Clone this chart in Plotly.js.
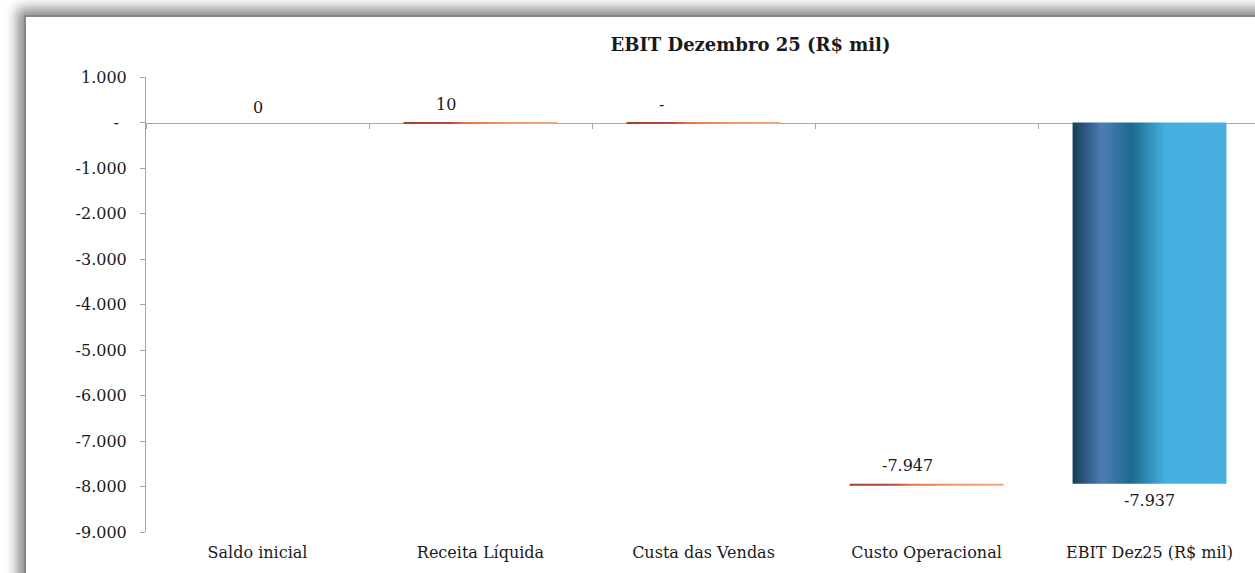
<!DOCTYPE html>
<html><head><meta charset="utf-8">
<script src="https://cdn.plot.ly/plotly-3.0.1.min.js"></script>
<style>
html,body{margin:0;padding:0;background:#fff;overflow:hidden;width:1255px;height:573px;}
#frame{position:absolute;left:24px;top:15px;width:1300px;height:640px;border-left:2px solid #868686;border-top:2px solid #868686;box-shadow:-7px -7px 12px rgba(0,0,0,0.45);background:#fff;}
#chart{position:absolute;left:0;top:0;}
</style></head><body>
<div id="frame"><div id="chart"></div></div>
<script>
// ---- data ----
const categories = ['Saldo inicial', 'Receita Líquida', 'Custa das Vendas', 'Custo Operacional', 'EBIT Dez25 (R$ mil)'];
const startCategory = 'Saldo inicial';
const startValue = 0;
const stepCategories = ['Receita Líquida', 'Custa das Vendas', 'Custo Operacional'];
const stepValues = [10, 0, -7947];
const stepLabels = ['10', '-', '-7.947'];
const endCategory = 'EBIT Dez25 (R$ mil)';
const totalLabels = ['0', '-7.937'];
const yTickVals = [1000, 0, -1000, -2000, -3000, -4000, -5000, -6000, -7000, -8000, -9000];
const yTickText = ['1.000', '-\u2002', '-1.000', '-2.000', '-3.000', '-4.000', '-5.000', '-6.000', '-7.000', '-8.000', '-9.000'];
const titleText = 'EBIT Dezembro 25 (R$ mil)';

// ---- derived ----
const runningTotals = [];
let acc = startValue;
stepValues.forEach(v => { acc += v; runningTotals.push(acc); });
const endValue = acc;

const yRange = [-9000, 1000];
const plotH = 455;
const markPx = 2;
const markDepth = markPx * (yRange[1] - yRange[0]) / plotH;

const FONT = 'DejaVu Serif, Liberation Serif, serif';
const TXT = '#1a1a1a';
const AX = '#a6a6a6';

const data = [
  {
    type: 'bar', x: [startCategory, endCategory], y: [startValue, endValue],
    marker: {color: '#2f86b8'}, hoverinfo: 'none', showlegend: false
  },
  {
    type: 'bar', x: stepCategories, base: runningTotals, y: stepCategories.map(() => -markDepth),
    xaxis: 'x2', yaxis: 'y',
    marker: {color: '#e07a45'}, hoverinfo: 'none', showlegend: false
  }
];

const annotations = [];
[[startCategory, startValue, totalLabels[0]], [endCategory, endValue, totalLabels[1]]].forEach(([c, v, t]) => {
  annotations.push({x: c, y: v, xref: 'x', yref: 'y', text: t, showarrow: false,
    yshift: v < 0 ? -17 : 15, xanchor: 'center', yanchor: 'middle',
    font: {family: FONT, size: 16, color: TXT}});
});
stepCategories.forEach((c, i) => {
  annotations.push({x: c, y: runningTotals[i], xref: 'x', yref: 'y', text: stepLabels[i], showarrow: false,
    yshift: 18, xshift: -47, xanchor: 'left', yanchor: 'middle',
    font: {family: FONT, size: 16, color: TXT}});
});

const layout = {
  width: 1260, height: 575,
  margin: {l: 120, r: 25, t: 60, b: 60},
  paper_bgcolor: '#fff', plot_bgcolor: '#fff',
  barmode: 'overlay', bargap: 0.31,
  title: {text: '<b>' + titleText + '</b>', x: 0.575, xref: 'container', xanchor: 'center',
    y: 1 - 28 / 575, yref: 'container', yanchor: 'middle',
    font: {family: FONT, size: 18, color: TXT}},
  xaxis: {type: 'category', categoryorder: 'array', categoryarray: categories, range: [-0.5, categories.length - 0.5],
    showline: false, ticks: '', showgrid: false, zeroline: false,
    tickfont: {family: FONT, size: 16, color: TXT}, ticklabelstandoff: 9},
  xaxis2: {type: 'category', categoryorder: 'array', categoryarray: categories, matches: 'x',
    overlaying: 'x', anchor: 'free', position: (0 - yRange[0]) / (yRange[1] - yRange[0]), side: 'bottom',
    showline: true, linecolor: AX, linewidth: 1, ticks: 'outside', tickson: 'boundaries', ticklen: 5, tickcolor: AX,
    showticklabels: false, showgrid: false, zeroline: false, layer: 'below traces'},
  yaxis: {range: yRange, tickvals: yTickVals, ticktext: yTickText, showline: true, linecolor: AX, linewidth: 1,
    ticks: 'outside', ticklen: 5, tickcolor: AX, showgrid: false, zeroline: false,
    tickfont: {family: FONT, size: 16, color: TXT}, ticklabelstandoff: 10},
  annotations: annotations
};

Plotly.newPlot('chart', data, layout, {staticPlot: true, displayModeBar: false}).then(gd => {
  const ns = 'http://www.w3.org/2000/svg';
  const svg = gd.querySelector('svg.main-svg');
  let defs = svg.querySelector('defs');
  if (!defs) { defs = document.createElementNS(ns, 'defs'); svg.insertBefore(defs, svg.firstChild); }
  function mk(id, stops) {
    const g = document.createElementNS(ns, 'linearGradient');
    g.setAttribute('id', id);
    g.setAttribute('x1', '0'); g.setAttribute('x2', '1'); g.setAttribute('y1', '0'); g.setAttribute('y2', '0');
    stops.forEach(([o, c]) => {
      const s = document.createElementNS(ns, 'stop');
      s.setAttribute('offset', o); s.setAttribute('stop-color', c);
      g.appendChild(s);
    });
    defs.appendChild(g);
  }
  mk('gBlue', [[0, '#143d54'], [0.19, '#4f7db6'], [0.38, '#1b6a90'], [0.6, '#45aee0'], [1, '#47b0e0']]);
  mk('gOrange', [[0, '#a3401c'], [0.3, '#b6484e'], [0.4, '#e37436'], [0.7, '#ef9a68'], [1, '#f4a680']]);
  const traces = gd.querySelectorAll('.barlayer .trace');
  if (traces[0]) traces[0].querySelectorAll('path').forEach(p => { p.style.fill = 'url(#gBlue)'; });
  if (traces[1]) traces[1].querySelectorAll('path').forEach(p => { p.style.fill = 'url(#gOrange)'; });
});
</script>
</body></html>
